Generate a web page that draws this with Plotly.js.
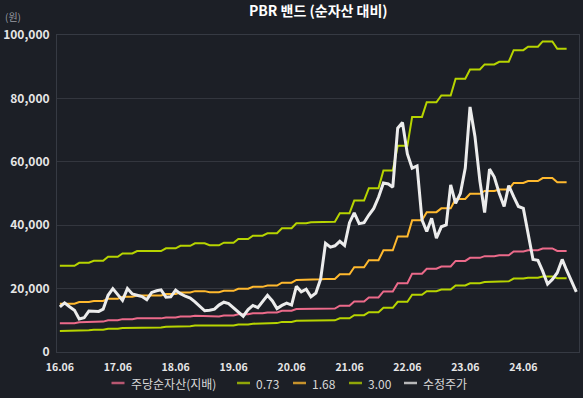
<!DOCTYPE html>
<html><head><meta charset="utf-8">
<script src="https://cdn.plot.ly/plotly-3.0.1.min.js"></script>
<style>html,body{margin:0;padding:0;background:#1c1f26;}#chart{width:583px;height:398px;}</style>
</head><body><div id="chart"></div>
<script>
// Monthly points starting 2016-06
const startMonth = '2016-06';
// BPS (주당순자산, 지배) per month, quarterly steps
const bps = [
 9060,9060,9060,9060, 9380,9380,9380, 9590,9590,9590, 10010,10010,10010, 10370,10370,10370,
 10610,10610,10610,10610,10610,10610,
 10900,10900,10900, 11170,11170,11170, 11430,11430,11430, 11220,11220,11220,
 11490,11490,11490, 11880,11880,11880, 12230,12230,12230, 12480,12480,12480,
 13010,13010,13010, 13540,13540,13540, 13640,13640,13640, 13700,13700,13700,
 14590,14590,14590, 15920,15920,15920, 17230,17230,17230, 19090,19090,19090,
 21690,21690,21690, 24720,24720,24720, 26260,26260,26260, 26970,26970,26970,
 28730,28730,28730, 29710,29710,29710, 30240,30240,30240, 30520,30520,30520,
 31740,31740,31740, 32100,32100,32100, 32660,32660,32660, 31890,31890,31890
];
// PBR multiples shown as bands
const multiples = [0.73, 1.68, 3.00];
const multipleLabels = ['0.73', '1.68', '3.00'];
// Adjusted price (수정주가) per month
const price = [
 14200,15500,14300,13200,10400,10800,12900,12900,12800,13500,
 17900,20000,18000,16300,20000,18300,17900,17500,16500,18800,
 19300,19600,17300,17400,19500,18400,17600,17000,15800,14400,
 13000,13200,13500,14800,15700,15300,13900,12400,11300,13400,
 14700,14000,16000,17900,16100,13700,14700,15400,14800,20700,
 19000,19800,17400,18600,23000,34300,33100,33500,34900,33600,
 40800,43900,40500,40800,43200,45300,48800,53300,53000,52000,
 70600,72400,62500,58000,58700,41700,38000,42200,35900,39500,
 40100,52700,46900,50000,58000,77300,68000,54000,44000,57700,
 55200,50100,45900,52500,49000,45900,45300,37500,29200,28900,
 25500,21400,22900,25000,29200,25800,22100,19000
];
const yTicks = [0,20000,40000,60000,80000,100000];
const seriesNames = ['주당순자산(지배)', '0.73', '1.68', '3.00', '수정주가'];
const seriesColors = ['#ec6a8a', '#b7d400', '#ffb92e', '#b7d400', '#ececec'];

function monthDate(i){
  const [y,m] = startMonth.split('-').map(Number);
  const t = (m-1)+i; const yy = y+Math.floor(t/12); const mm = (t%12)+1;
  return yy+'-'+String(mm).padStart(2,'0')+'-01';
}
const xB = bps.map((_,i)=>monthDate(i));
const xP = price.map((_,i)=>monthDate(i));

const traces = [
 {x:xB, y:bps, name:seriesNames[0], mode:'lines', line:{color:seriesColors[0], width:2}},
];
multiples.forEach((k,j)=>{
  traces.push({x:xB, y:bps.map(v=>v*k), name:seriesNames[j+1], mode:'lines', line:{color:seriesColors[j+1], width:2}});
});
traces.push({x:xP, y:price, name:seriesNames[4], mode:'lines', line:{color:seriesColors[4], width:3}});

// Custom compact legend (pixel layout -> paper coords)
const L = 57, R = 579, T = 35, B = 352;
const px2x = p => (p - L) / (R - L);
const py2y = p => (B - p) / (B - T);
const legendLineStart = [111.5, 237, 293, 349, 404];
const legendY = 383;
const shapes = [], annotations = [];
seriesNames.forEach((n,i)=>{
  shapes.push({type:'line', xref:'paper', yref:'paper', x0:px2x(legendLineStart[i]), x1:px2x(legendLineStart[i]+13),
    y0:py2y(legendY), y1:py2y(legendY), line:{color:seriesColors[i], width:2.5}, opacity:0.75});
  annotations.push({text:n, xref:'paper', yref:'paper', x:px2x(legendLineStart[i]+17), y:py2y(legendY+0.5),
    xanchor:'left', yanchor:'middle', showarrow:false, font:{size:12, color:'#d8d8d8'}});
});
annotations.push({text:'(원)', xref:'paper', yref:'paper', x:px2x(3), y:py2y(17), xanchor:'left', yanchor:'middle', showarrow:false,
    font:{size:10, color:'#9a9ca3'}});

const font = 'Noto Sans CJK KR, Noto Sans, sans-serif';
const layout = {
  width:583, height:398,
  paper_bgcolor:'#1c1f26', plot_bgcolor:'#1c1f26',
  font:{family:font, color:'#e2e2e2', size:12},
  margin:{l:L, r:583-R, t:T, b:398-B},
  title:{text:'<b>PBR 밴드 (순자산 대비)</b>', x:0.546, xanchor:'center', y:0.972, yanchor:'middle', font:{size:14, color:'#ffffff', family:font}},
  xaxis:{type:'date', range:['2016-05-14','2025-05-18'], tick0:'2016-06-01', dtick:'M12', tickformat:'%y.%m',
    showgrid:false, showline:true, mirror:true, linecolor:'#363a43', linewidth:1, ticks:'', ticklabelstandoff:5,
    tickfont:{size:10.5, color:'#e6e6e6', family:font, weight:600}, zeroline:false},
  yaxis:{range:[0,100000], tickvals:yTicks, tickformat:',', showgrid:true, gridcolor:'#33363e', gridwidth:1,
    showline:true, mirror:true, linecolor:'#363a43', linewidth:1, zeroline:false, ticks:'', ticklabelstandoff:4,
    tickfont:{size:12, color:'#e6e6e6', family:font, weight:600}},
  showlegend:false,
  shapes:shapes,
  annotations:annotations
};
Plotly.newPlot('chart', traces, layout, {displayModeBar:false, staticPlot:true});
</script></body></html>
